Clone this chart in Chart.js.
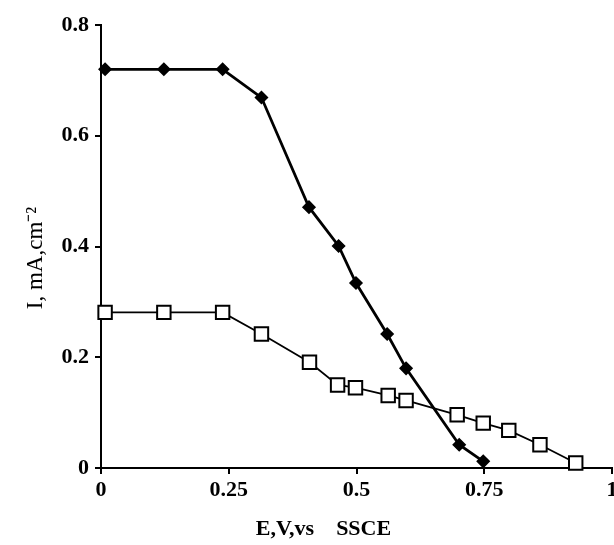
<!DOCTYPE html>
<html>
<head>
<meta charset="utf-8">
<script src="https://cdn.jsdelivr.net/npm/chart.js@4"></script>
<style>
  html, body { margin: 0; padding: 0; background: #fff; }
  #wrap { width: 614px; height: 545px; }
</style>
</head>
<body>
<div id="wrap"><canvas id="myChart" width="614" height="545"></canvas></div>
<script>
// values
var diamondE = [0.008, 0.123, 0.238, 0.314, 0.407, 0.465, 0.499, 0.560, 0.597, 0.701, 0.748];
var diamondI = [0.72, 0.72, 0.72, 0.669, 0.471, 0.401, 0.334, 0.242, 0.180, 0.042, 0.012];
var squareE = [0.008, 0.123, 0.238, 0.314, 0.408, 0.463, 0.498, 0.562, 0.597, 0.697, 0.748, 0.798, 0.859, 0.929];
var squareI = [0.281, 0.281, 0.281, 0.242, 0.191, 0.150, 0.145, 0.131, 0.122, 0.096, 0.081, 0.068, 0.042, 0.009];
var xTicks = [0, 0.25, 0.5, 0.75, 1];
var yTicks = [0, 0.2, 0.4, 0.6, 0.8];

function toPoints(xs, ys) {
	var pts = [];
	for (var i = 0; i < xs.length; i++) {
		pts.push({x: xs[i], y: ys[i]});
	}
	return pts;
}

var serif = "'Liberation Serif', 'Times New Roman', serif";

new Chart(document.getElementById("myChart"), {
	type: 'scatter',
	data: {
		datasets: [{
			label: 'diamond',
			data: toPoints(diamondE, diamondI),
			showLine: true,
			borderColor: '#000',
			borderWidth: 2.8,
			pointStyle: 'rectRot',
			pointRadius: 6,
			pointBorderWidth: 1.5,
			pointBackgroundColor: '#000',
			pointBorderColor: '#000',
			clip: false
		}, {
			label: 'square',
			data: toPoints(squareE, squareI),
			showLine: true,
			borderColor: '#000',
			borderWidth: 1.8,
			pointStyle: 'rect',
			pointRadius: 9.5,
			pointBorderWidth: 2,
			pointBackgroundColor: '#fff',
			pointBorderColor: '#000',
			clip: false
		}]
	},
	options: {
		responsive: false,
		animation: false,
		layout: { autoPadding: false, padding: { top: 25, right: 2, left: 0, bottom: 0 } },
		plugins: {
			legend: { display: false },
			tooltip: { enabled: false }
		},
		scales: {
			x: {
				type: 'linear',
				min: 0,
				max: 1,
				afterBuildTicks: function(scale) {
					scale.ticks = xTicks.map(function(v) { return {value: v}; });
				},
				afterFit: function(scale) {
					scale.height = 77;
					scale.paddingLeft = 0;
					scale.paddingRight = 0;
				},
				grid: { drawOnChartArea: false, drawTicks: true, tickLength: 6, color: '#000', lineWidth: 2 },
				border: { display: true, color: '#000', width: 2 },
				ticks: {
					color: '#000',
					padding: 3,
					maxRotation: 0,
					callback: function(v) { return String(v); },
					font: { family: serif, size: 22, weight: 'bold' }
				},
				title: {
					display: true,
					text: 'E,V,vs    SSCE            ',
					color: '#000',
					padding: { top: 0, bottom: 2 },
					font: { family: serif, size: 22, weight: 'bold' }
				}
			},
			y: {
				type: 'linear',
				min: 0,
				max: 0.8,
				afterBuildTicks: function(scale) {
					scale.ticks = yTicks.map(function(v) { return {value: v}; });
				},
				afterFit: function(scale) {
					scale.width = 101;
					scale.paddingTop = 0;
					scale.paddingBottom = 0;
				},
				grid: { drawOnChartArea: false, drawTicks: true, tickLength: 6, color: '#000', lineWidth: 2 },
				border: { display: true, color: '#000', width: 2 },
				ticks: {
					color: '#000',
					padding: 6,
					callback: function(v) { return String(v); },
					font: { family: serif, size: 22, weight: 'bold' }
				},
				title: {
					display: true,
					text: 'I, mA,cm\u207B\u00B2    ',
					color: '#000',
					padding: { top: 22, bottom: 0 },
					font: { family: serif, size: 23 }
				}
			}
		}
	}
});
</script>
</body>
</html>
